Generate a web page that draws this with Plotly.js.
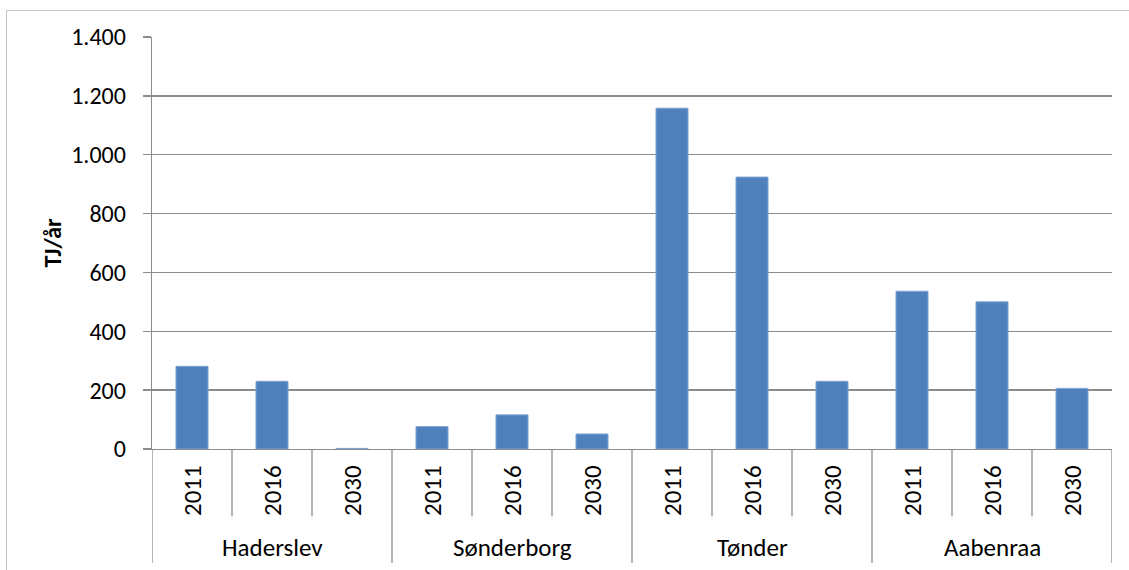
<!DOCTYPE html>
<html>
<head>
<meta charset="utf-8">
<script src="https://cdn.plot.ly/plotly-3.0.1.min.js"></script>
<style>
  html, body { margin: 0; padding: 0; background: #fff; overflow: hidden; }
  #wrap { position: relative; width: 1129px; height: 570px; }
  #chart { width: 1129px; height: 570px; }
  #frame { position: absolute; left: 6px; top: 10px; width: 1200px; height: 700px;
           border-left: 1px solid #c4c4c4; border-top: 1px solid #c4c4c4; pointer-events: none; }
</style>
</head>
<body>
<div id="wrap">
  <div id="chart"></div>
  <div id="frame"></div>
</div>
<script>
// ---- data ----
const groups = ['Haderslev', 'Sønderborg', 'Tønder', 'Aabenraa'];
const years = ['2011', '2016', '2030'];
const haderslev = [281, 230, 2];
const sonderborg = [76, 116, 51];
const tonder = [1158, 924, 230];
const aabenraa = [536, 500, 206];
const yTitle = 'TJ/år';

const seriesByGroup = [haderslev, sonderborg, tonder, aabenraa];

// ---- build category list ----
const xCats = [], yVals = [];
groups.forEach((g, gi) => {
  years.forEach((yr, yi) => {
    xCats.push(g + ' ' + yr);
    yVals.push(seriesByGroup[gi][yi]);
  });
});

const FONT = 'Carlito, Lato, sans-serif';
const FS = 25;
const gridCol = '#8c8c8c';
const nY = years.length;
const n = xCats.length;

const annotations = [];
const shapes = [];

// year labels
xCats.forEach((c, i) => {
  annotations.push({
    x: c, xref: 'x', y: -0.102, yref: 'paper',
    text: years[i % nY], textangle: -90, showarrow: false,
    font: { family: FONT, size: FS, color: '#000' },
    xanchor: 'center', yanchor: 'middle'
  });
});
// group labels
groups.forEach((g, gi) => {
  annotations.push({
    x: gi * nY + (nY - 1) / 2, xref: 'x', y: -0.24, yref: 'paper',
    text: g, showarrow: false,
    font: { family: FONT, size: FS, color: '#000' },
    xanchor: 'center', yanchor: 'middle'
  });
});
// dividers
for (let b = 0; b <= n; b++) {
  const xb = b - 0.5;
  const isGroup = (b % nY === 0);
  shapes.push({
    type: 'line', xref: 'x', yref: 'paper',
    x0: xb, x1: xb, y0: 0, y1: isGroup ? -0.277 : -0.163,
    line: { color: gridCol, width: 1.3 }
  });
}

const trace = {
  type: 'bar',
  x: xCats,
  y: yVals,
  marker: { color: '#4f81bd', line: { color: '#7fa3d0', width: 1 } },
  hoverinfo: 'x+y'
};

const layout = {
  width: 1129, height: 570,
  margin: { l: 152, r: 17, t: 37, b: 121 },
  paper_bgcolor: '#fff', plot_bgcolor: '#fff',
  separators: ',.',
  showlegend: false,
  bargap: 0.6,
  font: { family: FONT, size: FS, color: '#000' },
  xaxis: {
    type: 'category',
    range: [-0.5, n - 0.5],
    showticklabels: false,
    showgrid: false,
    zeroline: false,
    showline: true, linecolor: gridCol, linewidth: 1.3,
    ticks: ''
  },
  yaxis: {
    range: [0, 1400],
    dtick: 200,
    tick0: 0,
    tickformat: ',d',
    showgrid: true, gridcolor: gridCol, gridwidth: 1.3,
    zeroline: false,
    showline: true, linecolor: gridCol, linewidth: 1.3,
    ticks: 'outside', ticklen: 8, tickcolor: gridCol, tickwidth: 1.3,
    ticklabelstandoff: 12,
    tickfont: { family: FONT, size: 24, color: '#000' },
    title: { text: '<b>' + yTitle + '</b>', font: { family: FONT, size: 24, color: '#000' }, standoff: 2 }
  },
  annotations: annotations,
  shapes: shapes
};

Plotly.newPlot('chart', [trace], layout, { displayModeBar: false, staticPlot: true });
</script>
</body>
</html>
